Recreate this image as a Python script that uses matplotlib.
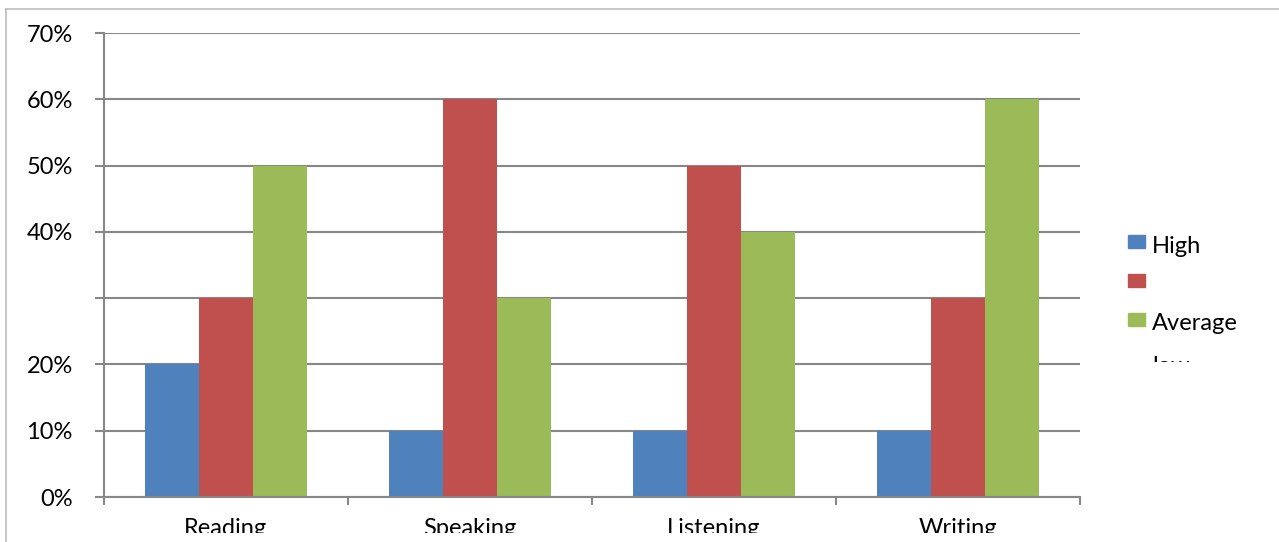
import matplotlib.pyplot as plt
import numpy as np
from matplotlib.patches import Rectangle
from matplotlib.lines import Line2D
from matplotlib.transforms import Bbox, blended_transform_factory

categories = ["Reading", "Speaking", "Listening", "Writing"]
high = [20, 10, 10, 10]
good = [30, 60, 50, 30]
average = [50, 30, 40, 60]
series_names = ["High", "", "Average", "low"]
y_ticks = [0, 10, 20, 30, 40, 50, 60, 70]
y_labels = ["0%", "10%", "20%", "", "40%", "50%", "60%", "70%"]

colors = ["#4F81BD", "#C0504D", "#9BBB59"]
grid_col = "#878787"
fs = 17

plt.rcParams['font.family'] = ['Lato', 'DejaVu Sans']

W, H = 1279, 542
fig = plt.figure(figsize=(W / 100, H / 100), dpi=100)

# outer chart border (cut at right and bottom)
fig.add_artist(Line2D([6 / W, 6 / W], [0, 1 - 9 / H], transform=fig.transFigure,
                      color="#BDBDBD", lw=1.2))
fig.add_artist(Line2D([6 / W, 1], [1 - 9 / H, 1 - 9 / H], transform=fig.transFigure,
                      color="#BDBDBD", lw=1.2))

ax = fig.add_axes([104 / W, 1 - 497 / H, (1080 - 104) / W, (497 - 33) / H])
x = np.arange(len(categories))
bw = 0.222
for i, vals in enumerate([high, good, average]):
    ax.bar(x + (i - 1) * bw, vals, width=bw, color=colors[i], zorder=3)

ax.set_xlim(-0.5, len(categories) - 0.5)
ax.set_ylim(0, 70)
ax.set_yticks(y_ticks)
ax.set_yticklabels(y_labels, fontsize=fs)
ax.set_xticks(np.arange(len(categories) + 1) - 0.5)
ax.set_xticklabels([])
ax.tick_params(axis='x', length=6, color=grid_col, width=1.5)
ax.tick_params(axis='y', length=6.5, color=grid_col, width=1.5, pad=16)
ax.yaxis.grid(True, color=grid_col, lw=1.5, zorder=0)
for s in ["top", "right"]:
    ax.spines[s].set_visible(False)
for s in ["left", "bottom"]:
    ax.spines[s].set_color(grid_col)
    ax.spines[s].set_linewidth(1.5)
    ax.spines[s].set_zorder(4)

# category labels, cut at the bottom like in the original
trans = blended_transform_factory(ax.transData, fig.transFigure)
for xi, name in zip(x, categories):
    t = ax.text(xi, 1 - 535 / H, name, transform=trans, fontsize=fs,
                ha='center', va='baseline')
    t.set_clip_on(True)
    t.set_clip_box(Bbox.from_extents(0, H - 533, W, H - 500))

# legend drawn by hand, last entry clipped like in the original
ys = [241.5, 280.5, 319.5]
for i in range(3):
    fig.add_artist(Rectangle((1128 / W, 1 - (ys[i] + 6.5) / H), 17 / W, 13 / H,
                             transform=fig.transFigure, color=colors[i]))
    if series_names[i]:
        fig.text(1152 / W, 1 - (ys[i] + 11) / H, series_names[i], fontsize=fs,
                 va='baseline', ha='left')
t = fig.text(1152 / W, 1 - 373 / H, series_names[3], fontsize=fs,
             va='baseline', ha='left')
t.set_clip_on(True)
t.set_clip_box(Bbox.from_extents(1100, H - 362, 1279, H - 300))

fig.savefig("out.png", dpi=100)
